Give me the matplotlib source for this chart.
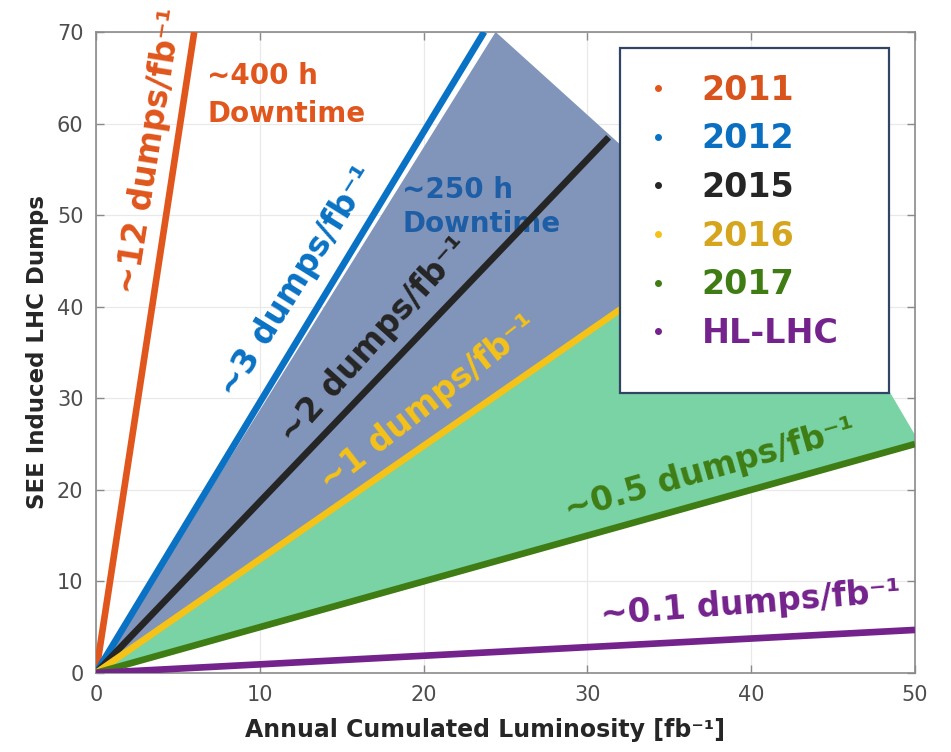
"""Figure: SEE induced LHC dumps vs annual cumulated luminosity."""
import matplotlib
matplotlib.use("Agg")
import matplotlib.pyplot as plt
from matplotlib.lines import Line2D
from matplotlib.patches import Rectangle

plt.rcParams["font.family"] = ["DejaVu Sans"]

# line per year: end points (all start at the origin)
years = ["2011", "2012", "2015", "2016", "2017", "HL-LHC"]
x_end = [6.0, 23.7, 31.3, 32.5, 50.0, 50.0]
y_end = [70.0, 70.0, 58.5, 40.3, 25.0, 4.7]
colors = ["#e0561c", "#0a72c4", "#252525", "#f5c218", "#3f7d14", "#74228c"]
legend_text_colors = ["#d9531c", "#0a6fc0", "#252525", "#d6a51e", "#3f7d14", "#74228c"]

# shaded bands
blue_band_x = [0, 24.4, 33.0, 33.0]
blue_band_y = [0, 70.0, 56.1, 40.9]
green_band_x = [0, 33.0, 47.8, 50.0, 50.0]
green_band_y = [0, 40.9, 32.7, 26.0, 25.0]

# legend box (data coords)
legend_box = (32.0, 30.6, 16.4, 37.6)

# rate labels: text, x, y, rotation
rate_labels = [
    ("~12 dumps/fb⁻¹", 3.3, 57.0, 81),
    ("~3 dumps/fb⁻¹", 12.3, 42.8, 58),
    ("~2 dumps/fb⁻¹", 17.0, 36.4, 48),
    ("~1 dumps/fb⁻¹", 20.3, 29.5, 38),
    ("~0.5 dumps/fb⁻¹", 37.5, 22.2, 16),
    ("~0.1 dumps/fb⁻¹", 40.0, 7.6, 4.5),
]


def main():
    fig = plt.figure(figsize=(9.51, 7.52), dpi=100)
    ax = fig.add_axes([0.1009, 0.1051, 0.8612, 0.8524])

    ax.fill(blue_band_x, blue_band_y, color="#8194b9", lw=0, zorder=1)
    ax.fill(green_band_x, green_band_y, color="#79d3a4", lw=0, zorder=1)

    for xe, ye, c in zip(x_end, y_end, colors):
        ax.plot([0, xe], [0, ye], color=c, lw=4.8, solid_capstyle="butt", zorder=3)

    for (txt, x, y, rot), c in zip(rate_labels, colors):
        ax.text(x, y, txt, color=c, fontsize=23.5, fontweight="bold", rotation=rot,
                ha="center", va="center", rotation_mode="anchor", zorder=4,
                clip_on=False)

    ax.text(6.8, 63.1, "~400 h\nDowntime", color=colors[0], fontsize=20,
            fontweight="bold", ha="left", va="center", linespacing=1.45, zorder=4)
    ax.text(18.7, 50.9, "~250 h\nDowntime", color="#1d5ea6", fontsize=20,
            fontweight="bold", ha="left", va="center", linespacing=1.3, zorder=2)

    bx, by, bw, bh = legend_box
    ax.add_patch(Rectangle((bx, by), bw, bh, facecolor="white", edgecolor="#2f4563",
                           lw=1.6, zorder=5))
    handles = [Line2D([], [], marker="o", ls="", color=c, markersize=4) for c in colors]
    leg = ax.legend(handles, years, loc="upper left", bbox_to_anchor=(0.64, 0.974),
                    borderaxespad=0, frameon=False,
                    prop={"size": 24, "weight": "bold"}, labelcolor=legend_text_colors,
                    borderpad=0.75, handlelength=0.8, handletextpad=0.9,
                    labelspacing=0.47)
    leg.set_zorder(6)

    ax.set_xlim(0, 50)
    ax.set_ylim(0, 70)
    ax.set_xticks(range(0, 51, 10))
    ax.set_yticks(range(0, 71, 10))
    ax.grid(True, color="#e9e9e9", lw=0.9, zorder=0)
    ax.set_axisbelow(True)
    ax.tick_params(direction="in", length=6, width=1, color="#8a8a8a",
                   labelsize=15, labelcolor="#4d4d4d", top=True, right=True, pad=9)
    for s in ax.spines.values():
        s.set_color("#8a8a8a")
        s.set_linewidth(1.2)

    ax.set_xlabel("Annual Cumulated Luminosity [fb⁻¹]", fontsize=17,
                  fontweight="bold", color="#262626")
    ax.xaxis.set_label_coords(0.475, -0.071)
    ax.set_ylabel("SEE Induced LHC Dumps", fontsize=16.5, fontweight="bold", color="#262626")
    ax.yaxis.set_label_coords(-0.057, 0.5)

    fig.savefig("out.png", dpi=100)


if __name__ == "__main__":
    main()
